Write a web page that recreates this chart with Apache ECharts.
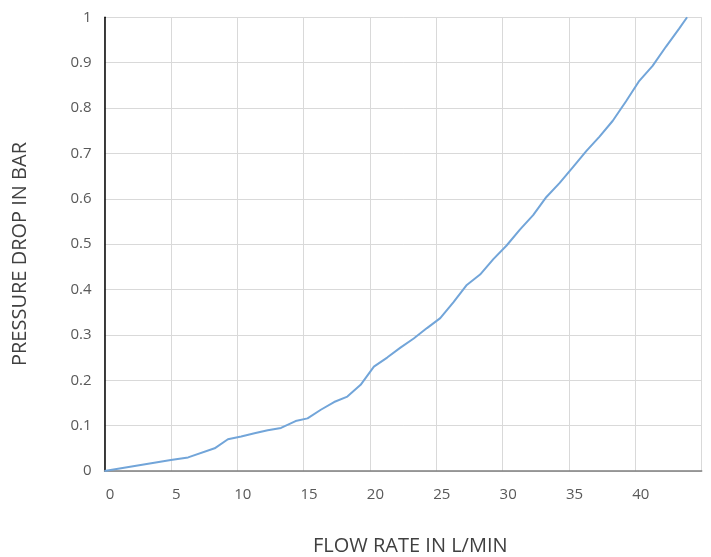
<!DOCTYPE html>
<html>
<head>
<meta charset="utf-8">
<script src="https://cdn.jsdelivr.net/npm/echarts@6/dist/echarts.min.js"></script>
<style>
html,body{margin:0;padding:0;background:#fff;}
#chart{width:711px;height:557px;}
</style>
</head>
<body>
<div id="chart"></div>
<script>
var flowRate = [0, 5, 6.3, 8.3, 9.3, 10.3, 11.3, 12.3, 13.3, 14.4, 15.3, 16.3, 17.3, 18.3, 19.3, 20.3, 21.3, 22.3, 23.3, 24.3, 25.3, 26.3, 27.3, 28.3, 29.3, 30.3, 31.3, 32.3, 33.3, 34.3, 35.3, 36.3, 37.3, 38.3, 39.3, 40.3, 41.3, 42.3, 43.3, 43.9];
var pressureDrop = [0, 0.024, 0.03, 0.05, 0.07, 0.076, 0.083, 0.09, 0.095, 0.11, 0.116, 0.135, 0.152, 0.164, 0.19, 0.23, 0.25, 0.272, 0.292, 0.315, 0.337, 0.372, 0.41, 0.433, 0.467, 0.497, 0.532, 0.564, 0.604, 0.635, 0.67, 0.705, 0.737, 0.772, 0.815, 0.86, 0.893, 0.935, 0.975, 1.0];
var xTitle = 'FLOW RATE IN L/MIN';
var yTitle = 'PRESSURE DROP IN BAR';

var points = flowRate.map(function (x, i) { return [x, pressureDrop[i]]; });

var chart = echarts.init(document.getElementById('chart'));
chart.setOption({
  animation: false,
  backgroundColor: '#ffffff',
  textStyle: { fontFamily: 'Open Sans, Noto Sans, sans-serif' },
  grid: { left: 104.5, right: 9.3, top: 17.3, bottom: 86 },
  xAxis: {
    type: 'value', min: 0, max: 45, interval: 5,
    axisLine: { show: true, onZero: false, lineStyle: { color: '#7f7f7f', width: 1.5 } },
    axisTick: { show: false },
    axisLabel: {
      color: '#595959', fontSize: 15, margin: 16, padding: [0, 0, 0, 11],
      formatter: function (v) { return v === 45 ? '' : String(v); }
    },
    splitLine: { show: true, lineStyle: { color: '#d9d9d9', width: 1 } }
  },
  yAxis: {
    type: 'value', min: 0, max: 1, interval: 0.1,
    axisLine: { show: true, lineStyle: { color: '#000000', width: 1.5 } },
    axisTick: { show: false },
    axisLabel: {
      color: '#595959', fontSize: 15, margin: 13,
      formatter: function (v) { return String(Math.round(v * 10) / 10); }
    },
    splitLine: { show: true, lineStyle: { color: '#d9d9d9', width: 1 } }
  },
  graphic: [
    {
      type: 'text', left: 313, top: 536,
      style: { text: xTitle, fill: '#404040', fontSize: 20, fontFamily: 'Open Sans, Noto Sans, sans-serif' }
    },
    {
      type: 'text', x: 10, y: 254, rotation: Math.PI / 2,
      style: { text: yTitle, fill: '#404040', fontSize: 20, align: 'center', verticalAlign: 'top', fontFamily: 'Open Sans, Noto Sans, sans-serif' }
    }
  ],
  series: [{
    type: 'line',
    data: points,
    showSymbol: false,
    symbol: 'none',
    lineStyle: { color: '#72a5d9', width: 2 },
    z: 3
  }]
});
</script>
</body>
</html>
